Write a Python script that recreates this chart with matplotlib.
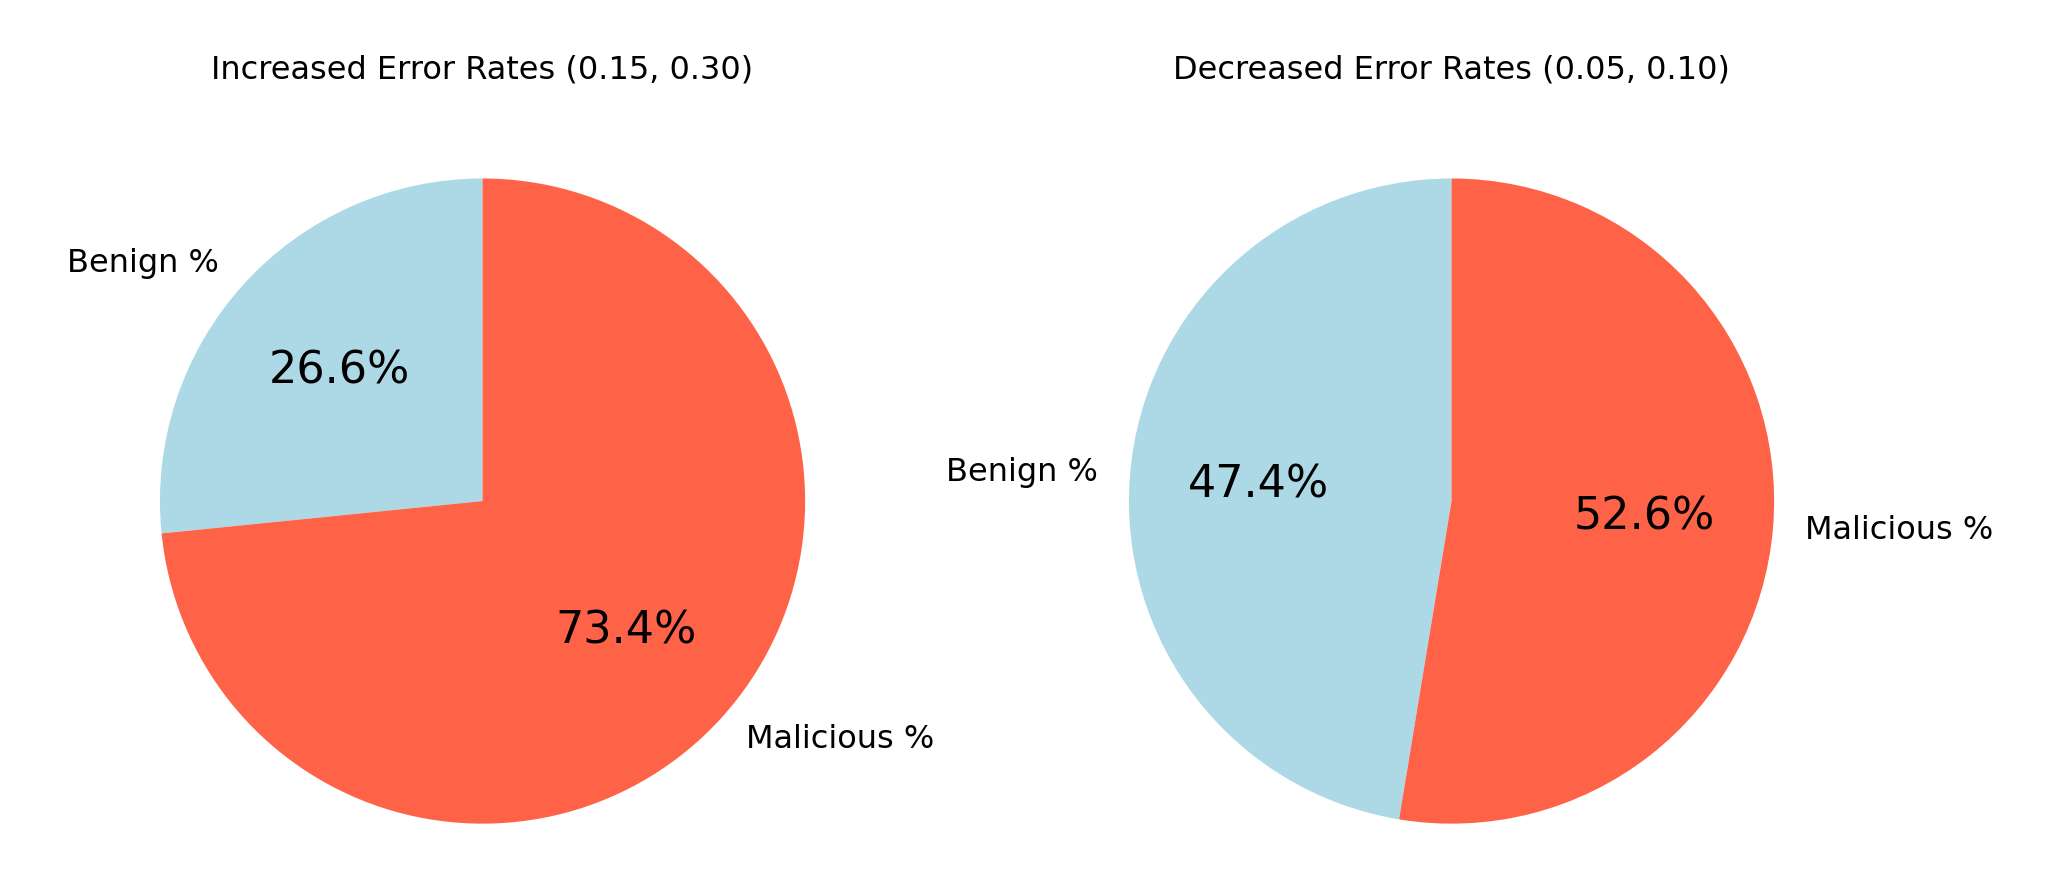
import matplotlib
matplotlib.use("Agg")
import matplotlib.pyplot as plt

labels = ["Benign %", "Malicious %"]
increased = [26.6, 73.4]
decreased = [47.4, 52.6]
titles = ["Increased Error Rates (0.15, 0.30)", "Decreased Error Rates (0.05, 0.10)"]
colors = ["lightblue", "tomato"]

fig = plt.figure(figsize=(10.28, 4.38), dpi=200)
w, h = 0.3138, 0.7365
centers = [(0.2347, 0.428), (0.706, 0.428)]
for (cx, cy), vals, t in zip(centers, [increased, decreased], titles):
    ax = fig.add_axes([cx - w / 2, cy - h / 2, w, h])
    wedges, texts, autotexts = ax.pie(vals, labels=labels, colors=colors, autopct="%1.1f%%",
                                      startangle=90, textprops={"fontsize": 11.5})
    for a in autotexts:
        a.set_fontsize(16)
    for tx in texts:
        tx.set_clip_on(False)
    ax.set_xlim(-1, 1)
    ax.set_ylim(-1, 1)
    ax.set_title(t, fontsize=11.5, pad=36)
fig.savefig("out.png", dpi=200)
